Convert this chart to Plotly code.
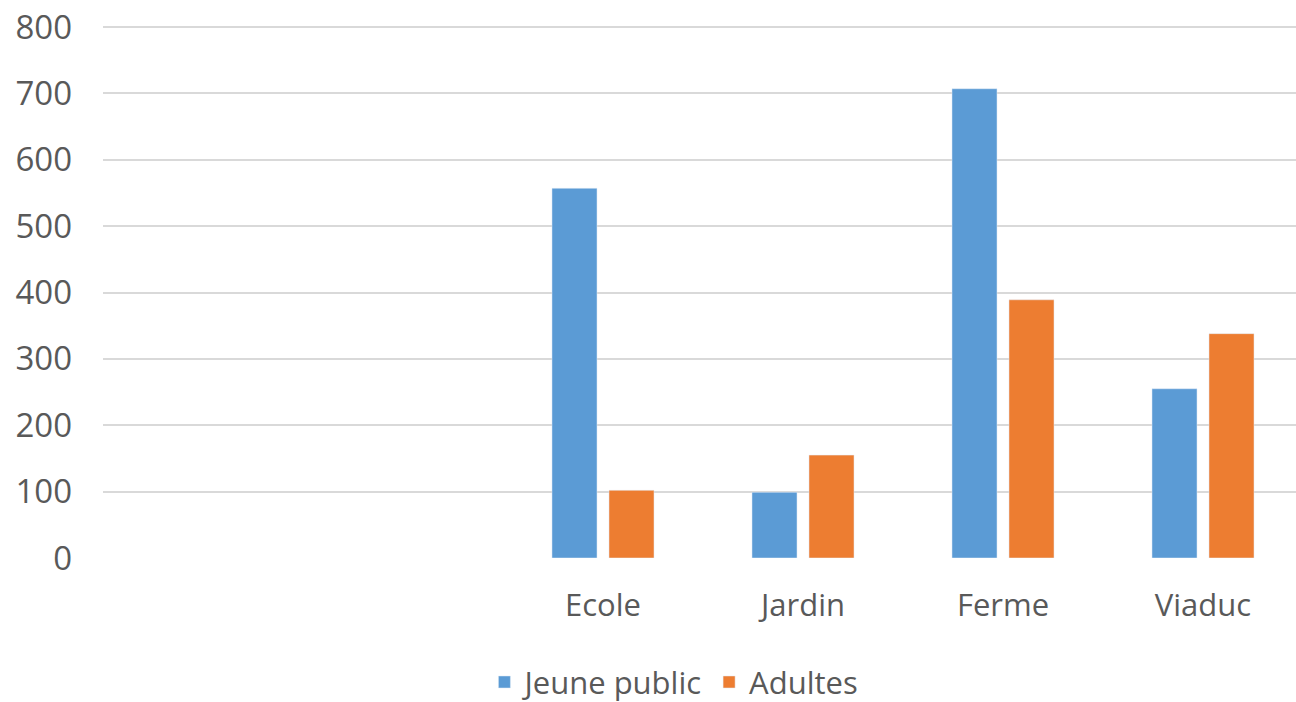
import plotly.graph_objects as go

categories = [" ", "  ", "Ecole", "Jardin", "Ferme", "Viaduc"]
jeune_public = [None, None, 557, 99, 707, 255]
adultes = [None, None, 102, 155, 389, 338]
y_ticks = [0, 100, 200, 300, 400, 500, 600, 700, 800]

fig = go.Figure()
fig.add_trace(go.Bar(name="Jeune public", x=categories, y=jeune_public,
                     marker=dict(color="#5B9BD5")))
fig.add_trace(go.Bar(name="Adultes", x=categories, y=adultes,
                     marker=dict(color="#ED7D31")))

fig.update_layout(
    width=1296, height=702,
    margin=dict(l=103, r=0, t=25, b=144, autoexpand=False),
    paper_bgcolor="white", plot_bgcolor="white",
    barmode="group", bargap=0.43, bargroupgap=0.21,
    font=dict(family="Open Sans", color="#595959", size=32),
    showlegend=True,
    legend=dict(orientation="h", xref="container", x=0.52, xanchor="center",
                yref="container", y=0.028, yanchor="middle",
                font=dict(size=31)),
)
fig.update_xaxes(type="category", categoryorder="array", categoryarray=categories,
                 range=[-0.5, 5.465], showgrid=False, zeroline=False,
                 showline=False, ticks="", tickfont=dict(size=31),
                 ticklabelstandoff=26, automargin=False)
fig.update_yaxes(range=[0, 803], tickvals=y_ticks, showgrid=True,
                 gridcolor="#D9D9D9", gridwidth=1.5, zeroline=False,
                 showline=False, ticks="", tickfont=dict(size=33),
                 ticklabelstandoff=30, ticklabeloverflow="allow",
                 automargin=False)

fig.write_html("out.html",
               config={"displayModeBar": False},
               post_script="document.body.style.margin='0';document.body.style.padding='0';")
